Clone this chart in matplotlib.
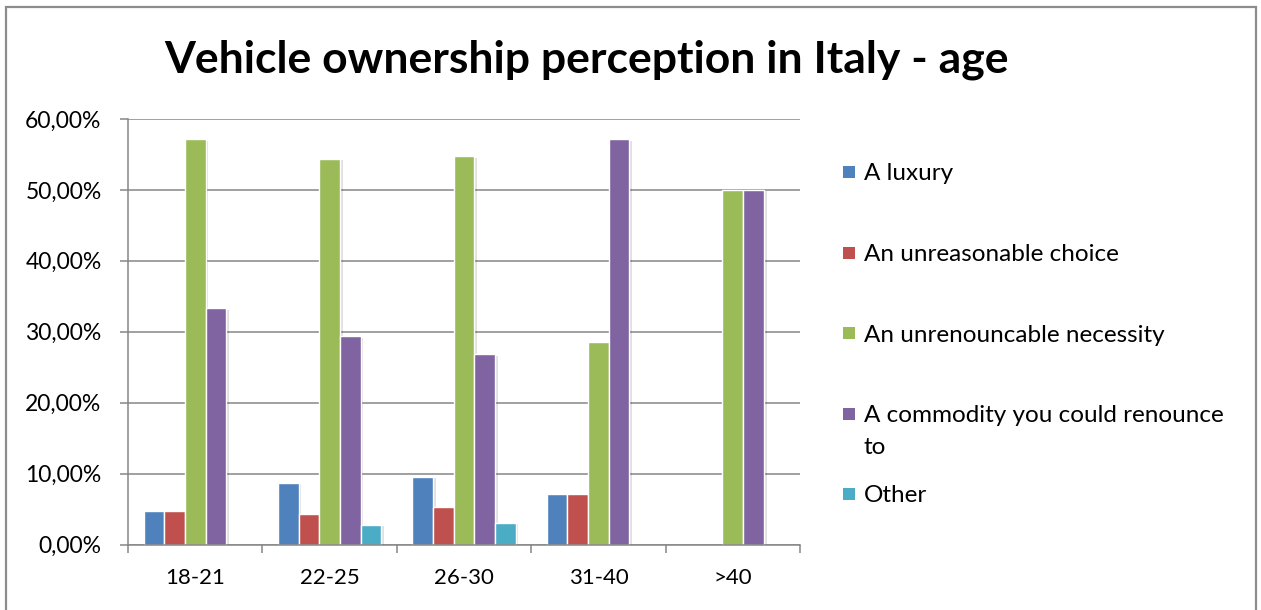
import numpy as np
import matplotlib
matplotlib.use("Agg")
import matplotlib.pyplot as plt
import matplotlib.patheffects as pe
from matplotlib.patches import Rectangle
from matplotlib.ticker import FuncFormatter

plt.rcParams["font.family"] = ["Lato", "DejaVu Sans"]

# ===== Data =====
AGE_GROUPS = ["18-21", "22-25", "26-30", "31-40", ">40"]
SERIES = [
    "A luxury",
    "An unreasonable choice",
    "An unrenouncable necessity",
    "A commodity you could renounce\nto",
    "Other",
]
LUXURY = [4.76, 8.70, 9.52, 7.14, 0.0]
UNREASONABLE = [4.76, 4.35, 5.30, 7.14, 0.0]
NECESSITY = [57.14, 54.35, 54.76, 28.57, 50.0]
COMMODITY = [33.33, 29.35, 26.80, 57.14, 50.0]
OTHER = [0.0, 2.80, 3.10, 0.0, 0.0]

COLORS = ["#4F81BD", "#C0504D", "#9BBB59", "#8064A2", "#4BACC6"]
GRID = "#868686"

W, H = 1261, 610


def px(x, y):
    """Pixel position (from top-left) to figure fraction."""
    return x / W, 1 - y / H


fig = plt.figure(figsize=(W / 100, H / 100), dpi=100)
ax = fig.add_axes([128 / W, 65.5 / H, 672 / W, 425.5 / H])

# Outer chart frame
fig.patches.append(
    Rectangle(px(6, 640), (1256 - 6) / W, (640 - 7) / H, transform=fig.transFigure,
              fill=False, edgecolor="#8C8C8C", linewidth=1.6)
)

# Clustered bars: 5 per group, gap width 150 %
values = [LUXURY, UNREASONABLE, NECESSITY, COMMODITY, OTHER]
x = np.arange(len(AGE_GROUPS))
bar_w = 1 / 6.5
shadow = [pe.SimplePatchShadow(offset=(2, -1), shadow_rgbFace="black", alpha=0.12),
          pe.Normal()]
for j, (vals, color) in enumerate(zip(values, COLORS)):
    vals = np.array(vals)
    mask = vals > 0
    bars = ax.bar(x[mask] + (j - 2) * bar_w, vals[mask], width=bar_w, color=color,
                  edgecolor="white", linewidth=1.0, zorder=2)
    for b in bars:
        b.set_path_effects(shadow)

ax.set_xlim(-0.5, len(AGE_GROUPS) - 0.5)
ax.set_ylim(0, 60)
ax.set_yticks(np.arange(0, 61, 10))
ax.yaxis.set_major_formatter(FuncFormatter(lambda v, _: f"{v:.2f}%".replace(".", ",")))
ax.grid(axis="y", color=GRID, linewidth=1.1, zorder=0)
ax.set_axisbelow(True)

# Category labels at centres, tick marks at category boundaries
ax.set_xticks(x)
ax.set_xticklabels(AGE_GROUPS)
ax.set_xticks(np.arange(-0.5, len(AGE_GROUPS)), minor=True)
ax.tick_params(axis="x", which="major", length=0, pad=17, labelsize=16)
ax.tick_params(axis="x", which="minor", length=6, width=1.1, color=GRID, direction="out")
ax.tick_params(axis="y", length=6, width=1.1, color=GRID, pad=13, labelsize=16.5)

for side in ["top", "right"]:
    ax.spines[side].set_visible(False)
for side in ["left", "bottom"]:
    ax.spines[side].set_color(GRID)
    ax.spines[side].set_linewidth(1.1)

# Title
fig.text(*px(587, 60), "Vehicle ownership perception in Italy - age", ha="center",
         va="center", fontsize=32, fontweight="bold", color="black")

# Legend on the right
y0, step, line_h = 172, 80.5, 32
for i, (label, color) in enumerate(zip(SERIES, COLORS)):
    yc = y0 + i * step
    fig.patches.append(
        Rectangle(px(843, yc + 6), 12 / W, 12 / H, transform=fig.transFigure,
                  facecolor=color, edgecolor="none")
    )
    for k, line in enumerate(label.split("\n")):
        fig.text(*px(864, yc + k * line_h), line, ha="left", va="center_baseline",
                 fontsize=17.5, color="black")

fig.savefig("out.png", dpi=100)
